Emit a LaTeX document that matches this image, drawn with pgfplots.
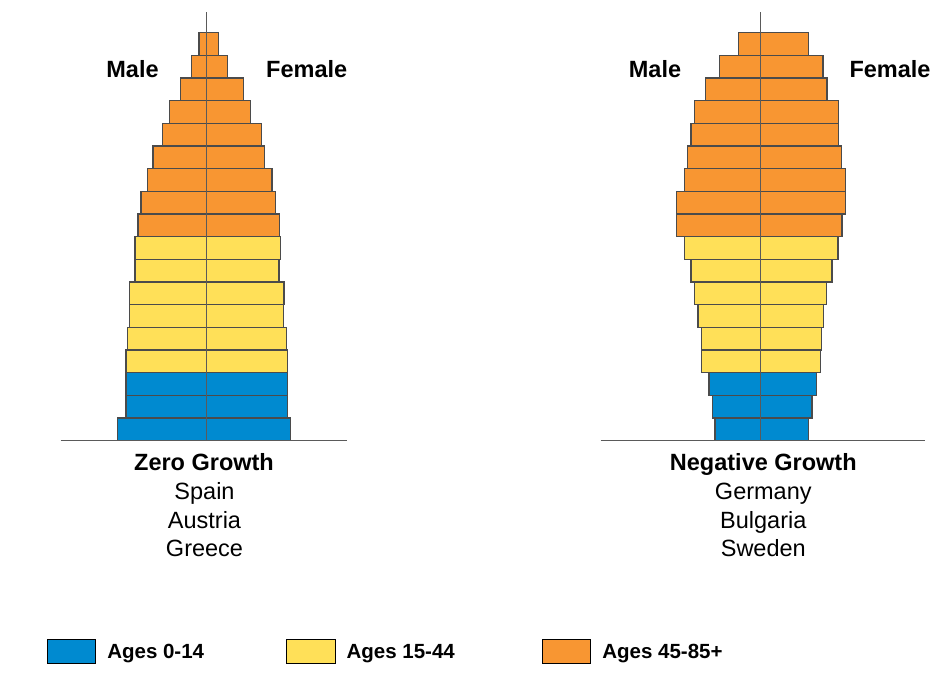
\documentclass[border=0pt]{standalone}
\usepackage{pgfplots}
\pgfplotsset{compat=1.18}
\usepackage{fontspec}
\setmainfont{Liberation Sans}
\definecolor{cblue}{RGB}{0,138,208}
\definecolor{cyellow}{RGB}{255,224,88}
\definecolor{corange}{RGB}{248,150,50}
\definecolor{cedge}{RGB}{75,75,75}
\definecolor{caxis}{RGB}{90,90,90}
\begin{document}
\begin{tikzpicture}[x=1pt,y=1pt]
\useasboundingbox (0,0) rectangle (952,672);
\pgfplotsset{
  pyr/.style={
    xbar, bar width=1, bar shift=0pt,
    x=1pt, y=22.67pt,
    ymin=0, ymax=18.91,
    axis lines=middle,
    axis line style={-, draw=caxis, line width=1.3pt},
    xtick=\empty, ytick=\empty,
    axis on top, clip=false,
    anchor=origin,
  },
  bars/.style={draw=cedge, line width=1.2pt, fill=#1,
    legend image code/.code={\draw[draw=black, line width=1pt, fill=#1] (0pt,-4.7pt) rectangle (48.5pt,19.3pt);}},
}
% ---------------- Zero growth ----------------
\begin{axis}[pyr, at={(206.7pt,231.3pt)}, xmin=-146, xmax=140.3,
  legend columns=3,
  legend style={at={(-0.0486,-0.4614)}, anchor=north west, draw=none, fill=none,
    inner sep=0pt, outer sep=0pt,
    font=\fontsize{20.5}{24}\selectfont\bfseries,
    nodes={inner sep=0pt}, cells={anchor=base west},
    /tikz/every odd column/.append style={column sep=11pt},
    /tikz/every even column/.append style={column sep=82pt}},
]
\addplot[bars=cblue] coordinates {
 (-89.3,0.5) (84,0.5)
 (-80.7,1.5) (80.7,1.5)
 (-80.7,2.5) (80.7,2.5)};
\addplot[bars=cyellow] coordinates {
 (-80.7,3.5) (80.7,3.5)
 (-79.3,4.5) (80,4.5)
 (-77.3,5.5) (76.7,5.5)
 (-77.3,6.5) (77.3,6.5)
 (-71.7,7.5) (72.3,7.5)
 (-71.7,8.5) (73.7,8.5)};
\addplot[bars=corange] coordinates {
 (-68.7,9.5) (72.7,9.5)
 (-65.7,10.5) (69,10.5)
 (-59,11.5) (65.3,11.5)
 (-53.7,12.5) (58,12.5)
 (-44.3,13.5) (54.7,13.5)
 (-37,14.5) (43.7,14.5)
 (-26.3,15.5) (37,15.5)
 (-15,16.5) (21,16.5)
 (-7.7,17.5) (11.7,17.5)};
\legend{Ages 0-14, Ages 15-44\hspace*{5pt}, Ages 45-85+}
\end{axis}
% ---------------- Negative growth ----------------
\begin{axis}[pyr, at={(760.7pt,231.3pt)}, xmin=-160, xmax=164.3]
\addplot[bars=cblue] coordinates {
 (-45.7,0.5) (48,0.5)
 (-48.3,1.5) (51.3,1.5)
 (-51.7,2.5) (56,2.5)};
\addplot[bars=cyellow] coordinates {
 (-59.3,3.5) (59.7,3.5)
 (-59.3,4.5) (60.7,4.5)
 (-62.7,5.5) (62.7,5.5)
 (-66.3,6.5) (66,6.5)
 (-69.7,7.5) (71.3,7.5)
 (-76.3,8.5) (77.3,8.5)};
\addplot[bars=corange] coordinates {
 (-84,9.5) (81.3,9.5)
 (-84,10.5) (84.7,10.5)
 (-76.3,11.5) (84.7,11.5)
 (-73,12.5) (80.7,12.5)
 (-69.7,13.5) (77.7,13.5)
 (-66.3,14.5) (78,14.5)
 (-55,15.5) (66.3,15.5)
 (-41,16.5) (62.3,16.5)
 (-22,17.5) (48,17.5)};
\end{axis}
% ---------------- Texts ----------------
\begin{scope}[every node/.style={anchor=base, inner sep=0pt}]
\node[font=\fontsize{23.5}{28}\selectfont\bfseries] at (132.5,594.7) {Male};
\node[font=\fontsize{23.5}{28}\selectfont\bfseries] at (306.7,594.7) {Female};
\node[font=\fontsize{23.5}{28}\selectfont\bfseries] at (655,594.7) {Male};
\node[font=\fontsize{23.5}{28}\selectfont\bfseries] at (890,594.7) {Female};
\node[font=\fontsize{23.5}{28}\selectfont\bfseries] at (204,201.3) {Zero Growth};
\node[font=\fontsize{23.5}{28}\selectfont] at (204.5,172) {Spain};
\node[font=\fontsize{23.5}{28}\selectfont] at (204.5,143.7) {Austria};
\node[font=\fontsize{23.5}{28}\selectfont] at (204.5,115.4) {Greece};
\node[font=\fontsize{23.5}{28}\selectfont\bfseries] at (763.3,201.3) {Negative Growth};
\node[font=\fontsize{23.5}{28}\selectfont] at (763.3,172) {Germany};
\node[font=\fontsize{23.5}{28}\selectfont] at (763.3,143.7) {Bulgaria};
\node[font=\fontsize{23.5}{28}\selectfont] at (763.3,115.4) {Sweden};
\end{scope}
\end{tikzpicture}
\end{document}
